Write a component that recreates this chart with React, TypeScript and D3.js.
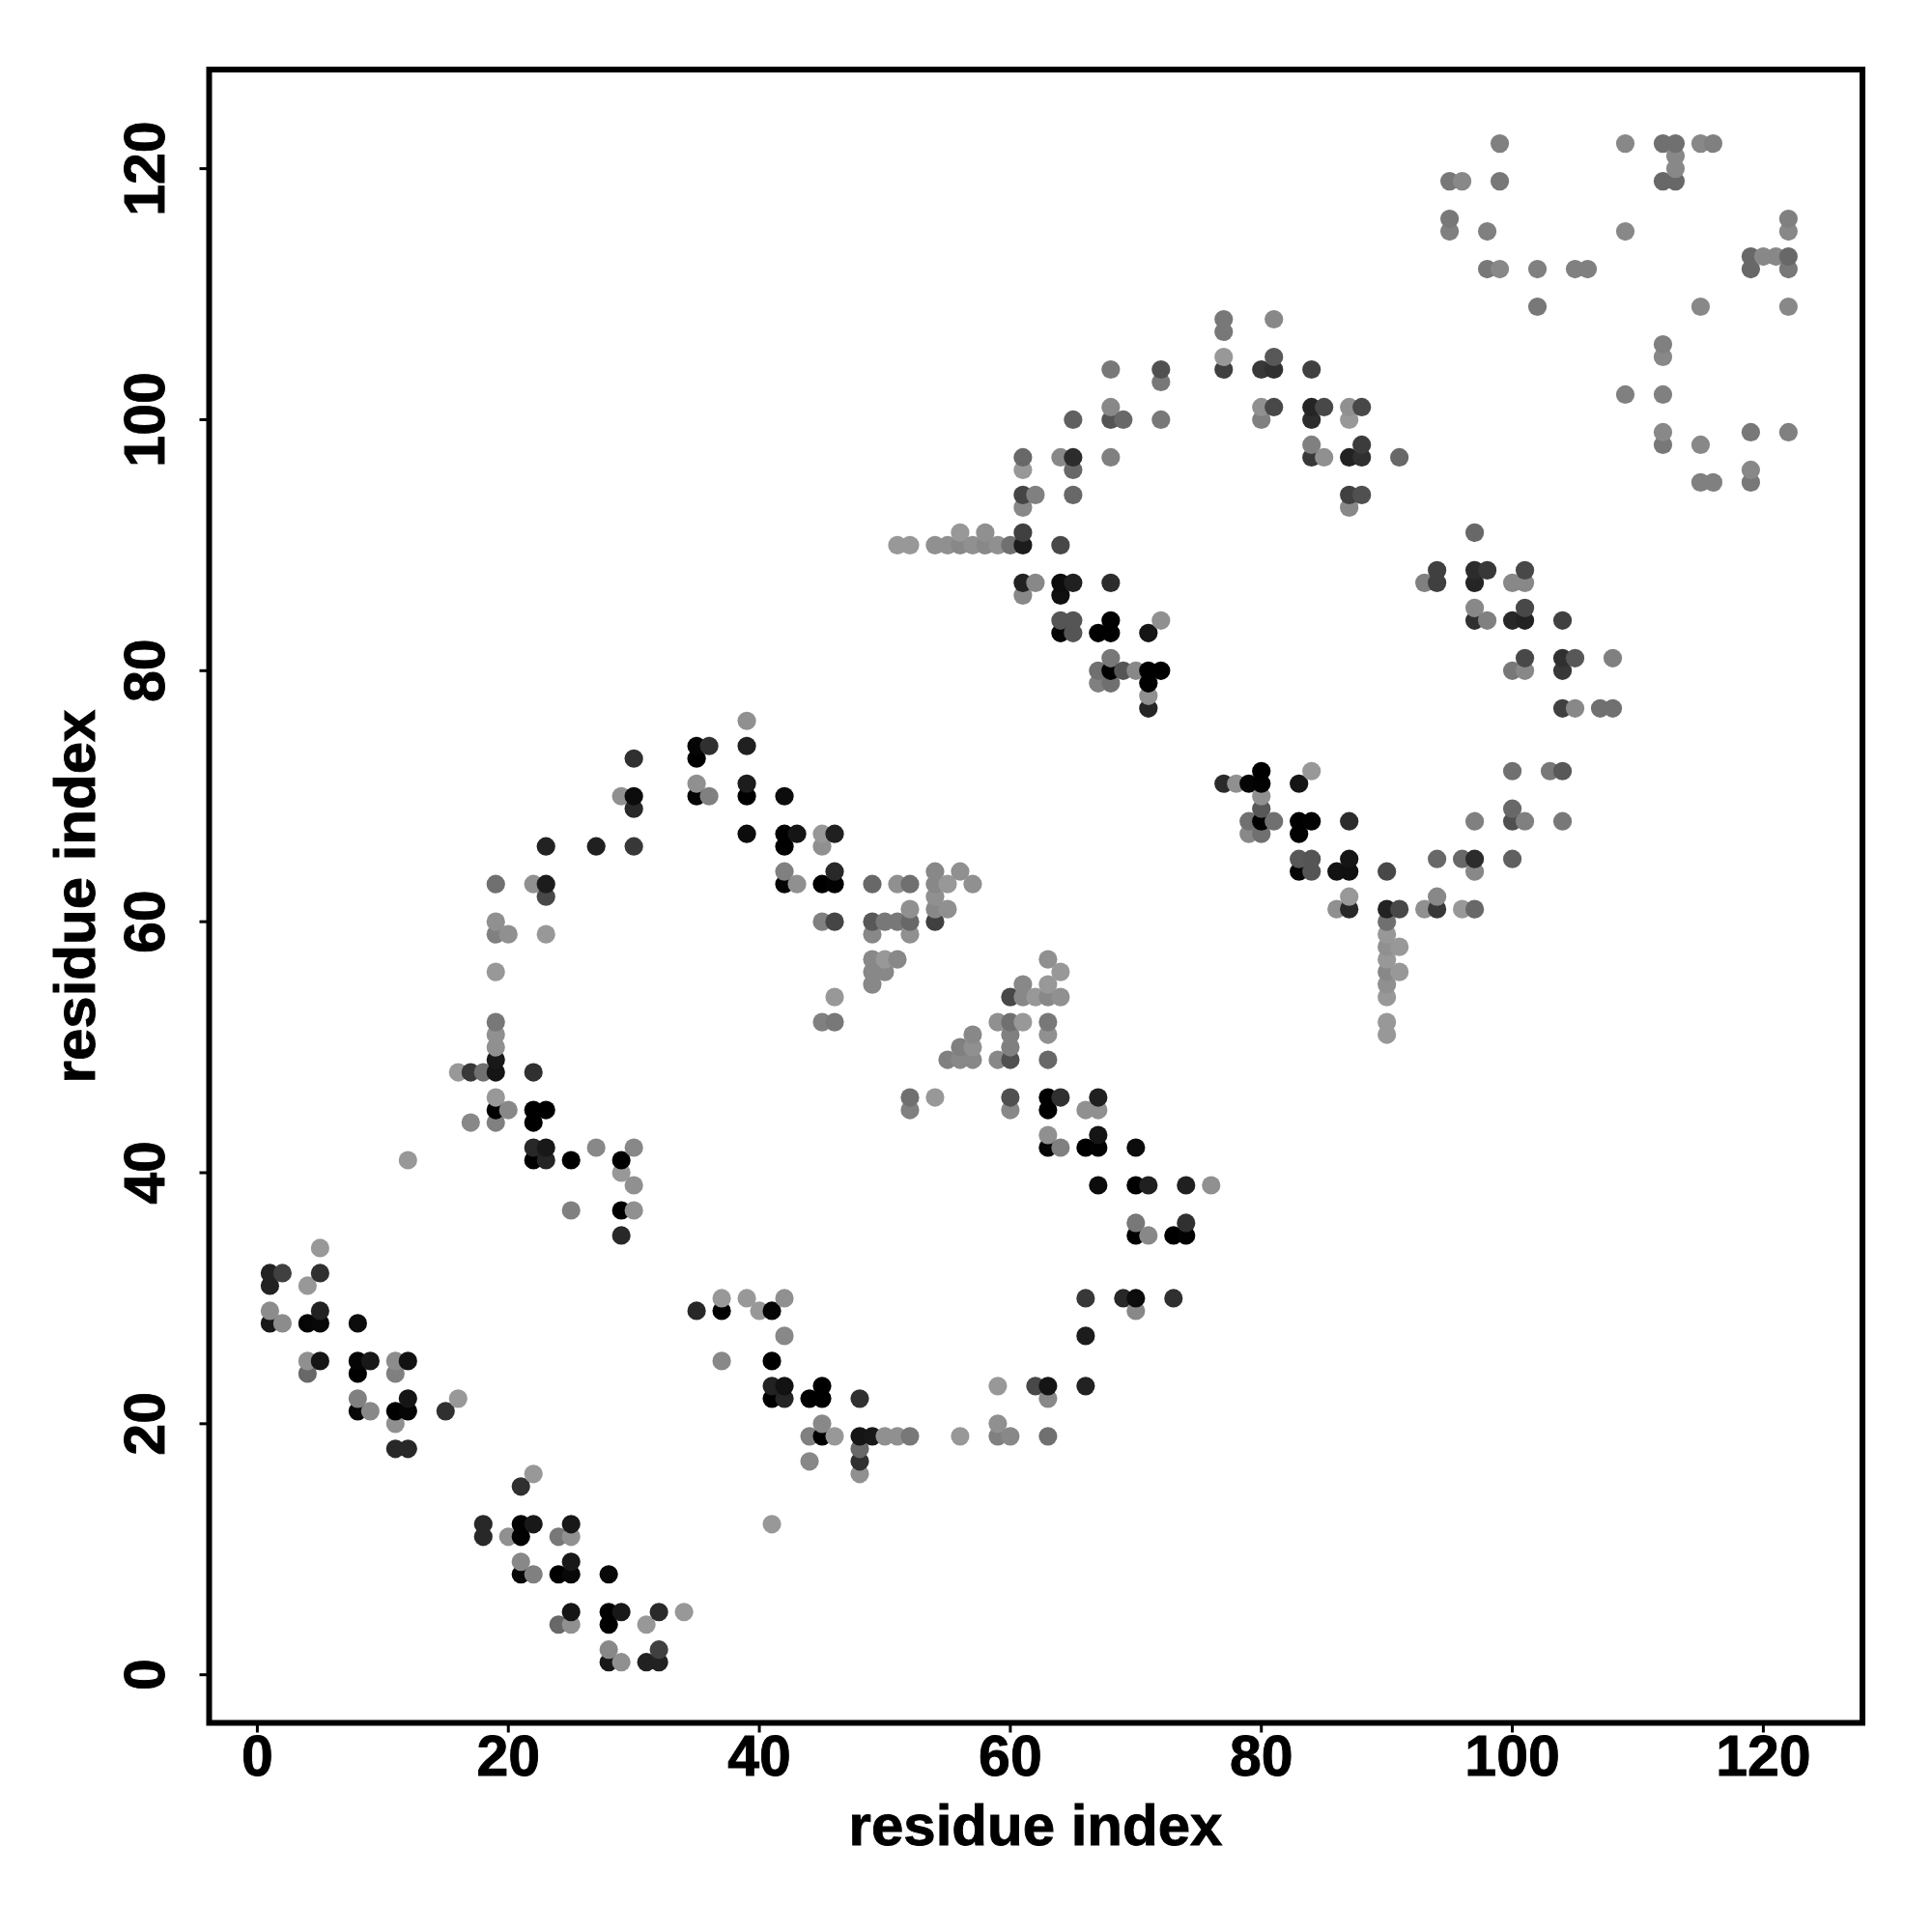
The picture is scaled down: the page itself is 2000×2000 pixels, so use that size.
import React from "react";
import * as d3 from "d3";

type Contact = [number, number, number];

const bottomLeft: Contact[] = [
  [5,34,0x98],[1,32,0x22],[2,32,0x40],[5,32,0x30],[1,31,0x22],[4,31,0x98],[1,29,0x8c],[5,29,0x22],
  [1,28,0x18],[2,28,0x8c],[4,28,0x05],[5,28,0x08],[8,28,0x0c],[4,25,0x90],[5,25,0x15],[8,25,0x05],
  [9,25,0x18],[11,25,0x8c],[12,25,0x12],[4,24,0x68],[8,24,0x00],[11,24,0x80],[8,22,0x80],[12,22,0x15],
  [8,21,0x08],[9,21,0x88],[11,21,0x00],[12,21,0x05],[15,21,0x30],[16,22,0x98],[11,20,0x90],[11,18,0x28],[12,18,0x28],
  [22,16,0x98],[21,15,0x30],[18,12,0x28],[18,11,0x28],[21,12,0x02],[22,12,0x18],[21,11,0x02],[20,11,0x90],
  [25,12,0x18],[24,11,0x78],[25,11,0x90],[21,9,0x88],[21,8,0x08],[22,8,0x80],[25,9,0x18],[24,8,0x00],[25,8,0x08],[28,8,0x08],
  [25,5,0x15],[24,4,0x68],[25,4,0x90],[28,5,0x00],[29,5,0x18],[28,4,0x00],[32,5,0x2a],[34,5,0x98],[31,4,0x98],
  [28,2,0x88],[29,1,0x90],[28,1,0x18],[32,2,0x40],[31,1,0x22],[32,1,0x22],
];

const lowerMiddle: Contact[] = [
  [35,29,0x28],[37,29,0x00],[37,30,0x98],[39,30,0x98],[40,29,0x98],[41,29,0x05],[42,30,0x90],[42,27,0x88],[37,25,0x88],[41,25,0x00],
  [41,23,0x22],[42,23,0x12],[41,22,0x00],[42,22,0x25],[44,22,0x00],[45,23,0x00],[45,22,0x00],[48,22,0x30],
  [45,20,0x88],[44,19,0x80],[45,19,0x00],[46,19,0x98],[48,19,0x15],[49,19,0x18],[50,19,0x90],[51,19,0x90],[52,19,0x78],
  [48,18,0x68],[48,17,0x30],[48,16,0x90],[44,17,0x88],[41,12,0x98],
  [56,19,0x98],[59,20,0x90],[59,19,0x80],[60,19,0x88],[59,23,0x98],[62,23,0x48],[63,23,0x15],[63,22,0x88],[63,19,0x70],
  [66,23,0x22],[66,27,0x1c],[66,30,0x38],[69,30,0x28],[70,30,0x0c],[70,29,0x88],[73,30,0x30],
];

const upperLeftArc: Contact[] = [
  [39,76,0x90],[35,74,0x05],[36,74,0x30],[39,74,0x20],[35,73,0x00],[30,73,0x30],[35,71,0x90],[35,70,0x05],[36,70,0x80],
  [39,71,0x1c],[39,70,0x00],[42,70,0x0c],[29,70,0x90],[30,70,0x0c],[30,69,0x28],[39,67,0x0c],[42,67,0x00],[43,67,0x15],
  [45,67,0x98],[46,67,0x20],[42,66,0x00],[45,66,0x90],[23,66,0x22],[27,66,0x20],[30,66,0x38],[42,64,0x80],[42,63,0x05],
  [43,63,0x90],[45,63,0x00],[46,64,0x28],[46,63,0x02],[19,63,0x70],[22,63,0x90],[23,63,0x1c],[23,62,0x48],
  [49,63,0x68],[51,63,0x90],[52,63,0x70],[54,64,0x88],[54,63,0x88],[55,63,0x98],[54,62,0x90],[54,61,0x88],[55,61,0x90],[52,61,0x90],[54,60,0x40],
  [56,64,0x90],[57,63,0x90],
  [45,60,0x80],[46,60,0x45],[49,60,0x58],[50,60,0x78],[51,60,0x78],[52,60,0x68],[49,59,0x88],[52,59,0x90],
  [19,60,0x90],[19,59,0x80],[20,59,0x90],[23,59,0x98],[19,56,0x98],[49,57,0x88],[50,57,0x98],[51,57,0x88],[49,56,0x88],[50,56,0x88],[49,55,0x88],
  [46,54,0x98],[45,52,0x80],[46,52,0x78],[19,52,0x78],[19,51,0x90],[19,50,0x90],[19,49,0x18],[19,48,0x15],
  [16,48,0x98],[17,48,0x38],[18,48,0x70],[22,48,0x30],[19,46,0x98],[19,45,0x00],[20,45,0x88],[22,45,0x00],[23,45,0x00],[22,44,0x00],[19,44,0x80],[17,44,0x88],
  [22,42,0x28],[23,42,0x18],[22,41,0x00],[23,41,0x25],[25,41,0x00],[27,42,0x88],[30,42,0x88],[29,41,0x00],[29,40,0x98],[30,39,0x90],
  [25,37,0x80],[29,37,0x00],[30,37,0x90],[29,35,0x28],[12,41,0x98],
];

const centralDiagonal: Contact[] = [
  [63,57,0x90],[64,56,0x98],[61,55,0x88],[63,55,0x98],[60,54,0x48],[61,54,0x88],[62,54,0x98],[63,54,0x88],[64,54,0x90],
  [59,52,0x90],[60,52,0x70],[61,52,0x98],[63,52,0x78],[60,51,0x80],[63,51,0x90],[57,51,0x88],[56,50,0x80],[57,50,0x90],[60,50,0x80],
  [55,49,0x80],[56,49,0x88],[57,49,0x88],[59,49,0x88],[60,49,0x50],[63,49,0x68],
  [52,46,0x70],[54,46,0x98],[52,45,0x80],[60,46,0x50],[60,45,0x88],[63,46,0x00],[64,46,0x30],[63,45,0x00],[67,46,0x20],[66,45,0x90],[67,45,0x90],
  [63,43,0x90],[63,42,0x05],[64,42,0x80],[67,43,0x15],[66,42,0x00],[67,42,0x02],[70,42,0x0c],
  [67,39,0x0c],[70,39,0x00],[71,39,0x20],[74,39,0x20],[76,39,0x90],
  [70,36,0x78],[70,35,0x00],[71,35,0x88],[73,35,0x00],[74,36,0x30],[74,35,0x02],
];

const rightFork: Contact[] = [
  [80,72,0x00],[77,71,0x2a],[78,71,0x90],[79,71,0x05],[80,71,0x02],[83,71,0x15],[84,72,0x98],
  [80,70,0x90],[80,69,0x58],[79,68,0x70],[80,68,0x00],[81,68,0x70],[79,67,0x88],[80,67,0x70],
  [83,68,0x00],[84,68,0x02],[83,67,0x02],[87,68,0x2c],[83,65,0x58],[84,65,0x55],[83,64,0x05],[84,64,0x55],
  [86,64,0x12],[87,65,0x15],[87,64,0x10],[90,64,0x48],[87,62,0x98],[86,61,0x90],[87,61,0x28],[90,61,0x22],[91,61,0x48],
  [90,60,0x70],[90,59,0x98],[90,58,0x90],[91,58,0x98],[90,57,0x98],[90,56,0x88],[91,56,0x98],[90,55,0x90],[90,54,0x98],[90,52,0x98],[90,51,0x98],
  [94,65,0x68],[96,65,0x68],[97,65,0x2c],[97,64,0x88],[100,65,0x60],[94,62,0x88],[93,61,0x90],[94,61,0x38],[96,61,0x98],[97,61,0x68],
  [97,68,0x80],[100,69,0x68],[100,68,0x50],[101,68,0x80],[104,68,0x78],[100,72,0x70],[103,72,0x78],[104,72,0x58],
];

const upperMiddle: Contact[] = [
  [77,108,0x78],[77,107,0x78],[81,108,0x88],[77,105,0x98],[77,104,0x40],[80,104,0x38],[81,105,0x58],[81,104,0x30],[84,104,0x40],
  [68,104,0x78],[72,104,0x50],[72,103,0x78],[68,101,0x88],[68,100,0x55],[69,100,0x68],[72,100,0x78],[65,100,0x60],
  [80,101,0x90],[81,101,0x48],[80,100,0x80],[84,101,0x25],[85,101,0x48],[84,100,0x2c],[87,101,0x90],[88,101,0x48],[87,100,0x98],
  [84,98,0x80],[84,97,0x38],[85,97,0x90],[87,97,0x22],[88,98,0x3c],[88,97,0x30],[91,97,0x68],
  [61,97,0x68],[61,96,0x98],[64,97,0x88],[65,97,0x2c],[65,96,0x68],[68,97,0x80],[61,94,0x45],[62,94,0x80],[61,93,0x88],[65,94,0x68],
  [87,94,0x40],[88,94,0x50],[87,93,0x88],[56,91,0x98],[58,91,0x90],[51,90,0x98],[52,90,0x98],[54,90,0x90],[55,90,0x90],[56,90,0x88],
  [57,90,0x90],[58,90,0x88],[59,90,0x90],[60,90,0x70],[61,90,0x1c],[61,91,0x40],[64,90,0x48],
  [61,87,0x22],[62,87,0x88],[64,87,0x0c],[65,87,0x20],[68,87,0x2c],[61,86,0x88],[64,86,0x10],
  [64,84,0x55],[65,84,0x55],[68,84,0x02],[72,84,0x90],[64,83,0x05],[65,83,0x55],[67,83,0x00],[68,83,0x00],[71,83,0x15],
  [68,81,0x78],[67,80,0x70],[68,80,0x00],[69,80,0x55],[70,80,0x88],[71,80,0x00],[72,80,0x00],[67,79,0x80],[68,79,0x70],[71,79,0x00],[71,78,0x90],[71,77,0x25],
];

const topRight: Contact[] = [
  [99,122,0x80],[109,122,0x88],[112,122,0x70],[113,122,0x70],[115,122,0x88],[116,122,0x80],[113,121,0x88],[113,120,0x88],
  [112,119,0x68],[113,119,0x68],[95,119,0x78],[96,119,0x88],[99,119,0x78],[95,116,0x78],[95,115,0x80],[98,115,0x80],[109,115,0x88],
  [122,116,0x80],[122,115,0x88],[119,113,0x68],[120,113,0x88],[121,113,0x88],[122,113,0x68],[119,112,0x68],[122,112,0x78],
  [98,112,0x78],[99,112,0x88],[102,112,0x80],[105,112,0x80],[106,112,0x80],[102,109,0x78],[115,109,0x88],[122,109,0x88],
  [112,106,0x80],[112,105,0x88],[109,102,0x80],[112,102,0x80],[112,99,0x88],[112,98,0x78],[115,98,0x88],[119,99,0x78],[122,99,0x80],
  [119,96,0x88],[119,95,0x78],[115,95,0x80],[116,95,0x80],
];

const rightBlock: Contact[] = [
  [97,91,0x68],[94,88,0x40],[93,87,0x80],[94,87,0x40],[97,88,0x2c],[98,88,0x38],[97,87,0x25],[101,88,0x48],[100,87,0x88],[101,87,0x88],
  [97,85,0x88],[97,84,0x30],[98,84,0x80],[100,84,0x28],[101,85,0x48],[101,84,0x22],[104,84,0x40],
  [101,81,0x48],[100,80,0x78],[101,80,0x88],[104,81,0x30],[105,81,0x58],[104,80,0x38],[108,81,0x80],
  [104,77,0x40],[105,77,0x88],[107,77,0x70],[108,77,0x70],
];

const tickValues = [0, 20, 40, 60, 80, 100, 120];
const axisTitle = "residue index";

const contacts = [...bottomLeft, ...lowerMiddle, ...upperLeftArc, ...centralDiagonal, ...rightFork, ...upperMiddle, ...topRight, ...rightBlock]
  .slice()
  .sort((a, b) => a[0] - b[0] || a[1] - b[1]);

const FONT = '"Liberation Sans", Arial, sans-serif';

export default function App() {
  const left = 216.5, right = 1928, top = 72, bottom = 1783.5;
  const x = d3.scaleLinear().domain([0, 120]).range([266.4, 1825.4]);
  const y = d3.scaleLinear().domain([0, 120]).range([1733.7, 174.6]);
  const gray = (v: number) => d3.rgb(v, v, v).formatHex();
  const textStyle = { fontFamily: FONT, fontWeight: 700, fill: "#000", stroke: "#000", strokeWidth: 0.9 };
  return (
    <svg width={2000} height={2000} viewBox="0 0 2000 2000"
      style={{ position: "absolute", left: 0, top: 0, background: "#fff", display: "block" }}>
      <g>
        {contacts.map(([i, j, g], k) => (
          <circle key={k} cx={x(i)} cy={y(j)} r={9.6} fill={gray(g)} />
        ))}
      </g>
      {tickValues.map((t) => (
        <g key={"x" + t}>
          <line x1={x(t)} x2={x(t)} y1={bottom} y2={bottom + 10} stroke="#000" strokeWidth={3} />
          <text x={x(t)} y={1838} textAnchor="middle" fontSize={59} style={textStyle}>{t}</text>
        </g>
      ))}
      {tickValues.map((t) => (
        <g key={"y" + t}>
          <line x1={left - 10} x2={left} y1={y(t)} y2={y(t)} stroke="#000" strokeWidth={3} />
          <text transform={`translate(170,${y(t)}) rotate(-90)`} textAnchor="middle" fontSize={59} style={textStyle}>{t}</text>
        </g>
      ))}
      <rect x={left} y={top} width={right - left} height={bottom - top} fill="none" stroke="#000" strokeWidth={6} />
      <text x={1072} y={1910} textAnchor="middle" fontSize={60} style={textStyle}>{axisTitle}</text>
      <text transform={`translate(98,928) rotate(-90)`} textAnchor="middle" fontSize={60} style={textStyle}>{axisTitle}</text>
    </svg>
  );
}
